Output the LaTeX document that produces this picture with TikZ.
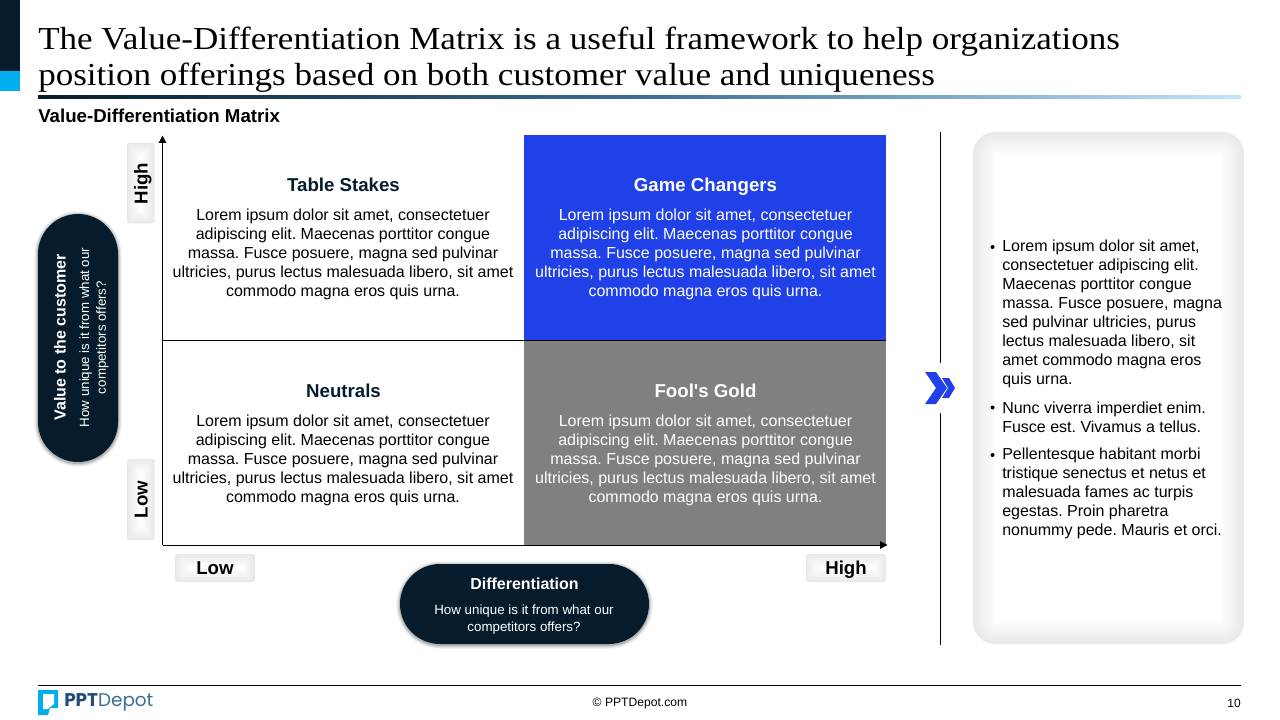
\documentclass[tikz,border=0pt]{standalone}
\usepackage{fontspec}
\setmainfont{Liberation Sans}
\newfontfamily\titlefont[FakeStretch=1.095]{Liberation Serif}
\newfontfamily\logofont{Poppins}
\newfontfamily\straightfont[Ligatures=ResetAll]{Liberation Sans}
\usetikzlibrary{arrows.meta}
\definecolor{navy}{HTML}{061C2C}
\definecolor{cyanbar}{HTML}{00AEEF}
\definecolor{royal}{HTML}{2040E8}
\definecolor{midgray}{HTML}{808080}
\definecolor{logoblue}{HTML}{1F4E79}
\definecolor{logolight}{HTML}{3A6E92}
\definecolor{gradmid}{HTML}{3A6E92}
\definecolor{gradend}{HTML}{BFE6FA}
\def\px{0.75pt}
\newcommand{\insetbox}[7]{%
 \foreach \i in {0,...,#7}{%
  \pgfmathsetmacro{\ins}{\i*#6/#7}
  \pgfmathsetmacro{\pc}{100*(\i/#7)}
  \pgfmathsetmacro{\rad}{max(#5-\ins,0.6)}
  \fill[white!\pc!black!9, rounded corners=\rad*\px] (#1+\ins,#2+\ins) rectangle (#3-\ins,#4-\ins);
 }}
\newcommand{\darkpill}[4]{%
 \foreach \s/\o in {4/0.04,3/0.06,2/0.09,1/0.14}{%
  \fill[black,opacity=\o,rounded corners=(40+\s)*\px] (#1-\s,#2-\s+1) rectangle (#3+\s,#4+\s+1);
 }
 \fill[navy,rounded corners=40*\px] (#1,#2) rectangle (#3,#4);}
\tikzset{
 body/.style={inner sep=0pt,align=center,font=\fontsize{12}{14.25}\selectfont\frenchspacing},
 bodyw/.style={body,text=white},
 head/.style={inner sep=0pt,text height=10pt,text depth=3pt,font=\fontsize{14}{16}\selectfont\bfseries},
 taglabel/.style={inner sep=0pt,text height=10pt,text depth=3pt,font=\fontsize{14}{16}\selectfont\bfseries,text=black},
 bullettext/.style={inner sep=0pt,align=left,anchor=west,font=\fontsize{12}{14.25}\selectfont\frenchspacing},
 axisline/.style={draw=black,line width=0.75pt,-{Triangle[length=5.5pt,width=5.5pt]}},
 pillhead/.style={inner sep=0pt,text=white,font=\fontsize{12}{14}\selectfont\bfseries},
 pillsub/.style={inner sep=0pt,text=white,align=center,font=\fontsize{10}{12.5}\selectfont},
}
\newcommand{\lorem}{Lorem ipsum dolor sit amet, consectetuer\\adipiscing elit. Maecenas porttitor congue\\massa. Fusce posuere, magna sed pulvinar\\ultricies, purus lectus malesuada libero, sit amet\\commodo magna eros quis urna.}
\begin{document}
\begin{tikzpicture}[x=0.75pt,y=-0.75pt]
\useasboundingbox (0,0) rectangle (1280,720);
% header
\fill[navy] (0,0) rectangle (20,71);
\fill[cyanbar] (0,71) rectangle (20,91);
\node[inner sep=0pt,anchor=west,align=left,text=black,font=\fontsize{24}{27}\titlefont] (title) at (38,59.5) {The Value-Differentiation Matrix is a useful framework to help organizations\\position offerings based on both customer value and uniqueness};
\shade[left color=navy,right color=gradmid] (38,95.5) rectangle (640,99);
\shade[left color=gradmid,right color=gradend] (640,95.5) rectangle (1241,99);
\node[inner sep=0pt,anchor=west,text=black,font=\fontsize{14}{16}\selectfont\bfseries] (sub) at (38,115.5) {Value-Differentiation Matrix};
% quadrants
\fill[royal] (524,135) rectangle (886,340);
\fill[midgray] (524,341) rectangle (886,545);
\coordinate (origin) at (162.5,545);
\coordinate (ytop) at (162.5,135.5);
\coordinate (xend) at (887.5,545);
\coordinate (midl) at (162.5,340.5);
\coordinate (midr) at (886,340.5);
\draw[black,line width=0.75pt] (midl) -- (midr);
\draw[axisline] (origin) -- (ytop);
\draw[axisline] (origin) -- (xend);
% quadrant text
\node[head,text=navy] (ts) at (343.5,187) {Table Stakes};
\node[body] (tsb) at (343,254) {\lorem};
\node[head,text=white] (gc) at (705.5,187) {Game Changers};
\node[bodyw] (gcb) at (705.5,254) {\lorem};
\node[head,text=navy] (ne) at (343.5,393) {Neutrals};
\node[body] (neb) at (343,460) {\lorem};
\node[head,text=white] (fg) at (705.5,393) {Fool{\straightfont\bfseries'}s Gold};
\node[bodyw] (fgb) at (705.5,460) {\lorem};
% tags
\insetbox{127}{143}{154.5}{223.5}{2}{13}{13}
\node[taglabel,rotate=90] (thigh) at (143,183.5) {High};
\insetbox{127}{459}{154.5}{540}{2}{13}{13}
\node[taglabel,rotate=90] (tlow) at (143,499.5) {Low};
\insetbox{175}{554}{255}{582}{2}{13}{13}
\node[taglabel] (xlow) at (215,570) {Low};
\insetbox{806}{554}{886}{582}{2}{13}{13}
\node[taglabel] (xhigh) at (846,570) {High};
% pills
\darkpill{38}{214}{118}{462}
\node[pillhead,rotate=90] (pv) at (60,337.5) {Value to the customer};
\node[pillsub,rotate=90] (pvs) at (94,337.5) {How unique is it from what our\\competitors offers?};
\darkpill{400}{564}{649}{644}
\node[pillhead] (ph) at (524.5,584) {Differentiation};
\node[pillsub] (phs) at (524,619.5) {How unique is it from what our\\competitors offers?};
% divider and chevrons
\coordinate (d1) at (940.5,132);
\coordinate (d2) at (940.5,363);
\coordinate (d3) at (940.5,413);
\coordinate (d4) at (940.5,645);
\draw[black,line width=0.75pt] (d1) -- (d2) (d3) -- (d4);
\fill[royal] (925,372) -- (936,372) -- (947,388) -- (936,404) -- (925,404) -- (936,388) -- cycle;
\fill[royal] (942,378) -- (949,378) -- (955,388) -- (949,398) -- (942,398) -- (948,388) -- cycle;
% right panel
\insetbox{973}{132}{1244}{644}{22}{24}{24}
\node[bullettext] (b1) at (1002,314) {Lorem ipsum dolor sit amet,\\consectetuer adipiscing elit.\\Maecenas porttitor congue\\massa. Fusce posuere, magna\\sed pulvinar ultricies, purus\\lectus malesuada libero, sit\\amet commodo magna eros\\quis urna.};
\node[bullettext] (b2) at (1002,417.5) {Nunc viverra imperdiet enim.\\Fusce est. Vivamus a tellus.};
\node[bullettext] (b3) at (1002,493) {Pellentesque habitant morbi\\tristique senectus et netus et\\malesuada fames ac turpis\\egestas. Proin pharetra\\nonummy pede. Mauris et orci.};
\fill[black] (992.5,247) circle (2);
\fill[black] (992.5,407.5) circle (2);
\fill[black] (992.5,455) circle (2);
% footer
\coordinate (fl) at (38,685.5);
\coordinate (fr) at (1241,685.5);
\draw[black,line width=0.75pt] (fl) -- (fr);
\fill[cyanbar] (38,690) -- (58,690) -- (58,708) -- (50,708) -- (48,715) -- (38,715) -- cycle;
\fill[white] (43,694) -- (54,694) -- (54,704) -- (48,709) -- (43,709) -- cycle;
\node[inner sep=0pt,anchor=west,font=\fontsize{13.8}{16}\logofont] (logo) at (64,702) {\textcolor{logoblue}{\textbf{PPT}}\textcolor{logolight}{Depot}};
\node[inner sep=0pt,text=black,font=\fontsize{9.1}{11}\selectfont] (copy) at (640,703.5) {© PPTDepot.com};
\node[inner sep=0pt,anchor=east,text=black,font=\fontsize{9}{11}\selectfont] (pg) at (1241,703) {10};
\end{tikzpicture}
\end{document}
